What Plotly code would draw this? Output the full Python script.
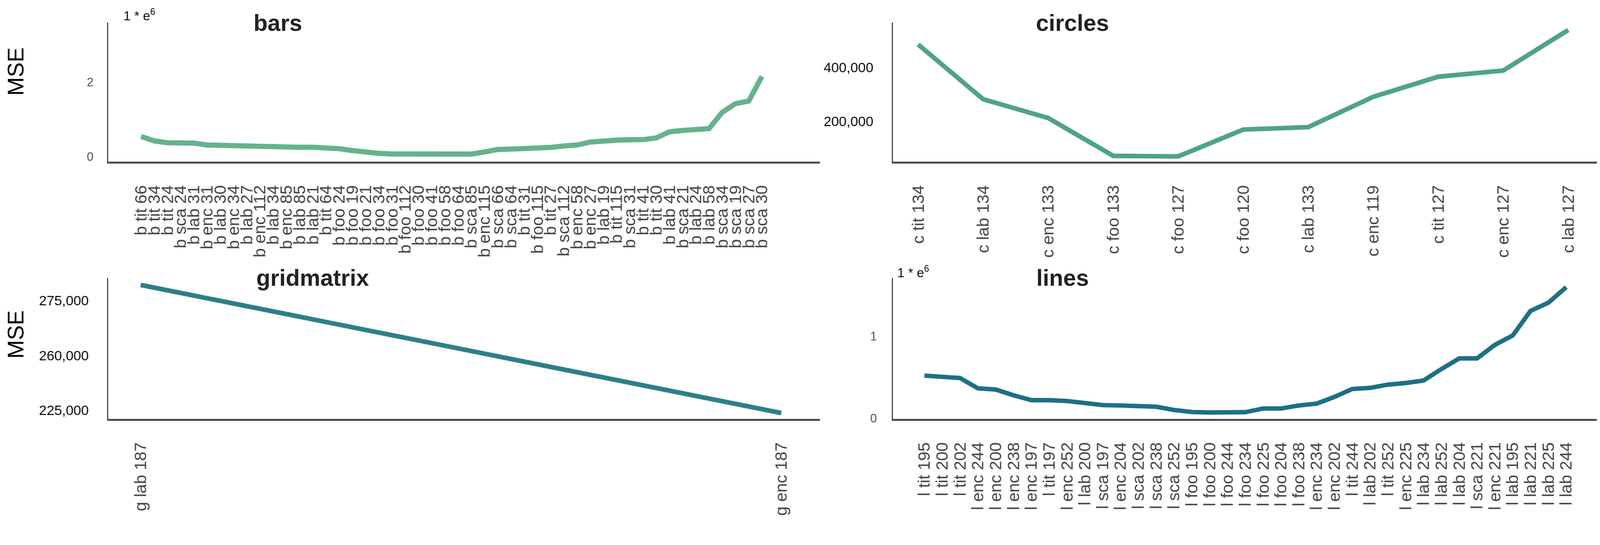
import plotly.graph_objects as go

W, H = 4323, 1396          # target picture size
S = 1.05                   # observed render zoom of the page
M = 8                      # default body margin of the page
FW = int(W / S - 2 * M)
FH = int(H / S - 2 * M)

# ---------------- data ----------------
bars_labels = [
    "b tit 66", "b tit 34", "b tit 24", "b sca 24", "b lab 31", "b enc 31", "b lab 30",
    "b enc 34", "b lab 27", "b enc 112", "b lab 34", "b enc 85", "b lab 85", "b lab 21",
    "b tit 64", "b foo 24", "b foo 19", "b foo 21", "b foo 34", "b foo 31", "b foo 112",
    "b foo 30", "b foo 41", "b foo 58", "b foo 64", "b sca 85", "b enc 115", "b sca 66",
    "b sca 64", "b tit 31", "b foo 115", "b tit 27", "b sca 112", "b enc 58", "b enc 27",
    "b lab 19", "b tit 115", "b sca 31", "b tit 41", "b tit 30", "b lab 41", "b sca 21",
    "b lab 24", "b lab 58", "b sca 34", "b sca 19", "b sca 27", "b sca 30",
]
bars_mse = [
    540000, 420000, 370000, 360000, 360000, 310000, 300000, 280000, 260000, 260000,
    255000, 250000, 250000, 250000, 245000, 210000, 160000, 110000, 85000, 70000,
    65000, 55000, 48000, 42000, 42000, 65000, 125000, 190000, 200000, 210000,
    220000, 245000, 285000, 310000, 390000, 430000, 440000, 450000, 455000, 500000,
    665000, 700000, 720000, 750000, 1190000, 1420000, 1490000, 2150000,
]

circles_labels = [
    "c tit 134", "c lab 134", "c enc 133", "c foo 133", "c foo 127", "c foo 120",
    "c lab 133", "c enc 119", "c tit 127", "c enc 127", "c lab 127",
]
circles_mse = [486000, 282000, 212000, 71000, 69000, 169000, 178000, 291000, 366000, 389000, 540000]

grid_labels = ["g lab 187", "g enc 187"]
grid_mse = [279300, 244200]

lines_labels = [
    "l tit 195", "l tit 200", "l tit 202", "l enc 244", "l enc 200", "l enc 238",
    "l enc 197", "l tit 197", "l enc 252", "l lab 200", "l sca 197", "l enc 204",
    "l sca 202", "l sca 238", "l sca 252", "l foo 195", "l foo 200", "l foo 244",
    "l foo 234", "l foo 225", "l foo 204", "l foo 238", "l enc 234", "l enc 202",
    "l tit 244", "l lab 202", "l tit 252", "l enc 225", "l lab 234", "l lab 252",
    "l lab 204", "l sca 221", "l enc 221", "l lab 195", "l lab 221", "l lab 225",
    "l lab 244",
]
lines_mse = [
    520000, 500000, 490000, 365000, 350000, 280000, 220000, 220000, 210000, 185000,
    160000, 155000, 148000, 140000, 100000, 75000, 70000, 70000, 73000, 118000,
    118000, 155000, 178000, 260000, 357000, 370000, 410000, 430000, 460000, 600000,
    730000, 730000, 895000, 1010000, 1310000, 1410000, 1600000,
]

bars_tickvals = [0, 2000000]
bars_ticktext = ["0", "2"]
circles_tickvals = [200000, 400000]
circles_ticktext = ["200,000", "400,000"]
grid_tickvals = [275000, 260000, 245000]
grid_ticktext = ["275,000", "260,000", "225,000"]
lines_tickvals = [0, 1000000]
lines_ticktext = ["0", "1"]

titles = ["bars", "circles", "gridmatrix", "lines"]
colors = ["#66b28d", "#50a28c", "#2c7f8a", "#1e6f87"]

# ---------------- helpers (picture pixels -> paper) ----------------
def fx(p):
    return (p / S - M) / FW

def fy(p):
    return 1 - (p / S - M) / FH

def px(v):
    return v / S

FONT = "Liberation Sans"

fig = go.Figure()
fig.add_trace(go.Scatter(x=bars_labels, y=bars_mse, mode="lines", xaxis="x", yaxis="y",
                         line=dict(color=colors[0], width=px(14))))
fig.add_trace(go.Scatter(x=circles_labels, y=circles_mse, mode="lines", xaxis="x2", yaxis="y2",
                         line=dict(color=colors[1], width=px(12.5))))
fig.add_trace(go.Scatter(x=grid_labels, y=grid_mse, mode="lines", xaxis="x3", yaxis="y3",
                         line=dict(color=colors[2], width=px(12.5))))
fig.add_trace(go.Scatter(x=lines_labels, y=lines_mse, mode="lines", xaxis="x4", yaxis="y4",
                         line=dict(color=colors[3], width=px(12))))

top = [fy(441), fy(62)]
bot = [fy(1142), fy(758)]
left = [fx(291), fx(2204)]
right = [fx(2400), fx(4301)]

def xax(domain, anchor, rng, labels):
    return dict(domain=domain, anchor=anchor, type="category", range=rng,
                tickmode="array", tickvals=labels, ticktext=labels,
                showline=True, linecolor="#4a4a4a", linewidth=px(5), showgrid=False,
                zeroline=False, ticks="", tickangle=-90, ticklabelstandoff=int(round(px(40))),
                tickfont=dict(family=FONT, size=px(45), color="#474747"))

def yax(domain, anchor, rng, tv, tt, size, color, standoff):
    return dict(domain=domain, anchor=anchor, range=rng, showline=True,
                linecolor="#4a4a4a", linewidth=px(3), showgrid=False, zeroline=False,
                ticks="", tickvals=tv, ticktext=tt, ticklabelstandoff=int(round(px(standoff))),
                tickfont=dict(family=FONT, size=px(size), color=color))

fig.update_layout(
    width=FW, height=FH, margin=dict(l=0, r=0, t=0, b=0),
    paper_bgcolor="white", plot_bgcolor="white", showlegend=False,
    xaxis=xax(left, "y", [-2.48, 51.39], bars_labels),
    yaxis=yax(top, "x", [-140000, 3590000], bars_tickvals, bars_ticktext, 32, "#555555", 30),
    xaxis2=xax(right, "y2", [-0.39, 10.49], circles_labels),
    yaxis2=yax(top, "x2", [49000, 567000], circles_tickvals, circles_ticktext, 37, "#111111", 42),
    xaxis3=xax(left, "y3", [-0.0506, 1.0604], grid_labels),
    yaxis3=yax(bot, "x3", [242600, 281200], grid_tickvals, grid_ticktext, 37, "#111111", 42),
    xaxis4=xax(right, "y4", [-1.77, 37.9], lines_labels),
    yaxis4=yax(bot, "x4", [-8000, 1712000], lines_tickvals, lines_ticktext, 32, "#555555", 34),
)

ann = []
for t, cx, cy in zip(titles, [747, 2883, 840, 2857], [63, 63, 758, 758]):
    ann.append(dict(text="<b>%s</b>" % t, x=fx(cx), y=fy(cy), xref="paper", yref="paper",
                    xanchor="center", yanchor="middle", showarrow=False,
                    font=dict(family=FONT, size=px(62), color="#222222")))
for cy in [195, 912]:
    ann.append(dict(text="MSE", x=fx(42), y=fy(cy), xref="paper", yref="paper",
                    xanchor="center", yanchor="middle", showarrow=False, textangle=-90,
                    font=dict(family=FONT, size=px(60), color="#000000")))
for lx, cy in [(330, 40), (2410, 741)]:
    ann.append(dict(text="1 * e<sup>6</sup>", x=fx(lx), y=fy(cy), xref="paper", yref="paper",
                    xanchor="left", yanchor="middle", showarrow=False,
                    font=dict(family=FONT, size=px(35), color="#111111")))
fig.update_layout(annotations=ann)

fig.write_html("out.html")
